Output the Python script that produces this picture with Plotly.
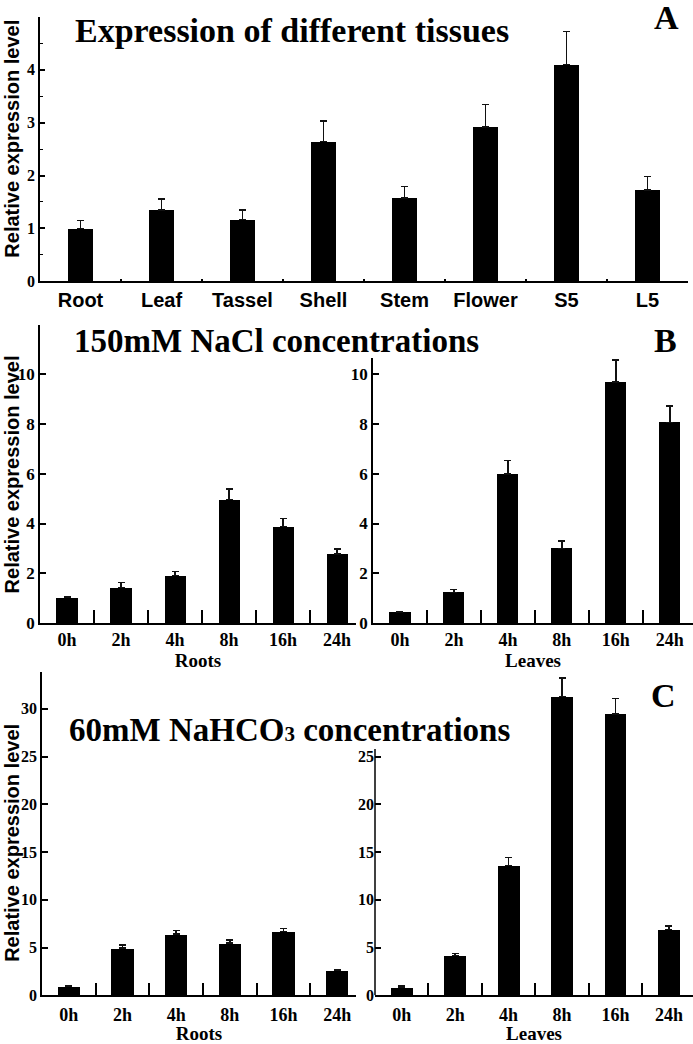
import plotly.graph_objects as go

# ---------------- data ----------------
tissues = ["Root", "Leaf", "Tassel", "Shell", "Stem", "Flower", "S5", "L5"]
tissue_vals = [1.0, 1.35, 1.17, 2.64, 1.57, 2.92, 4.10, 1.73]
tissue_err = [0.15, 0.21, 0.18, 0.39, 0.22, 0.42, 0.62, 0.25]

hours = ["0h", "2h", "4h", "8h", "16h", "24h"]

nacl_roots = [1.02, 1.42, 1.91, 4.97, 3.88, 2.78]
nacl_roots_err = [0.05, 0.20, 0.17, 0.41, 0.33, 0.20]
nacl_leaves = [0.45, 1.22, 6.00, 2.99, 9.69, 8.06]
nacl_leaves_err = [0.02, 0.12, 0.53, 0.31, 0.89, 0.67]

bicarb_roots = [0.93, 4.94, 6.40, 5.47, 6.67, 2.59]
bicarb_roots_err = [0.05, 0.35, 0.41, 0.31, 0.35, 0.11]
bicarb_leaves = [0.86, 4.15, 13.59, 31.30, 29.46, 6.92]
bicarb_leaves_err = [0.10, 0.24, 0.83, 1.90, 1.64, 0.34]

# ---------------- layout helpers ----------------
W, H = 693, 1044
SERIF = "Liberation Serif"
SANS = "Liberation Sans"


def px_x(x):
    return x / W


def px_y(y):
    return 1 - y / H


def bars(x, y, err, xa, ya, width):
    return go.Bar(
        x=x, y=y, xaxis=xa, yaxis=ya, width=width,
        marker=dict(color="black", line=dict(width=0)),
        error_y=dict(type="data", symmetric=False, array=err,
                     arrayminus=[0] * len(err), thickness=1.5, width=3.5,
                     color="#111111"),
        showlegend=False,
    )


fig = go.Figure()
fig.add_trace(bars(tissues, tissue_vals, tissue_err, "x", "y", 0.30))
fig.add_trace(bars(hours, nacl_roots, nacl_roots_err, "x2", "y2", 0.39))
fig.add_trace(bars(hours, nacl_leaves, nacl_leaves_err, "x3", "y3", 0.39))
fig.add_trace(bars(hours, bicarb_roots, bicarb_roots_err, "x4", "y4", 0.42))
fig.add_trace(bars(hours, bicarb_leaves, bicarb_leaves_err, "x5", "y5", 0.41))

axis_common = dict(showgrid=False, zeroline=False, showline=True,
                   linecolor="black", linewidth=1.5, ticks="inside",
                   tickcolor="black", tickwidth=1.5)

xfont_serif = dict(family=SERIF, size=18, color="black", weight="bold")
yfont_serif = dict(family=SERIF, size=17, color="black", weight="bold")
title_font = dict(family=SERIF, size=19, color="black", weight="bold")

layout = dict(
    width=W, height=H, margin=dict(l=0, r=0, t=0, b=0),
    paper_bgcolor="white", plot_bgcolor="white",
    bargap=0,
    # ---- panel A ----
    xaxis=dict(**axis_common, domain=[px_x(40), px_x(688)], anchor="y",
               type="category", range=[-0.5, 7.5], tickson="boundaries",
               ticklen=3,
               tickfont=dict(family=SANS, size=20, color="black", weight="bold")),
    yaxis=dict(**axis_common, domain=[px_y(284), px_y(17)], anchor="x",
               range=[0, 5], tickvals=[0, 1, 2, 3, 4], ticklen=5,
               minor=dict(dtick=0.5, ticks="inside", ticklen=3,
                          tickcolor="black", tickwidth=1.2),
               tickfont=dict(family=SERIF, size=16, color="black", weight="bold")),
    # ---- panel B left ----
    xaxis2=dict(**axis_common, domain=[px_x(40), px_x(356)], anchor="y2",
                type="category", range=[-0.5, 5.35], tickson="boundaries",
                ticklen=13, tickfont=xfont_serif,
                title=dict(text="Roots", font=title_font, standoff=0)),
    yaxis2=dict(**axis_common, domain=[px_y(629), px_y(629 - 12 * 25.1)],
                anchor="x2", range=[0, 12], tickvals=[0, 2, 4, 6, 8, 10],
                ticklen=6, minor=dict(tickvals=[12], ticks="inside", ticklen=6,
                                      tickcolor="black", tickwidth=1.5),
                tickfont=yfont_serif),
    # ---- panel B right ----
    xaxis3=dict(**axis_common, domain=[px_x(373), px_x(693)], anchor="y3",
                type="category", range=[-0.5, 5.43], tickson="boundaries",
                ticklen=13, tickfont=xfont_serif,
                title=dict(text="Leaves", font=title_font, standoff=0)),
    yaxis3=dict(**axis_common, domain=[px_y(629), px_y(629 - 10.65 * 25.1)],
                anchor="x3", range=[0, 10.65], tickvals=[0, 2, 4, 6, 8, 10],
                ticklen=6, tickfont=yfont_serif),
    # ---- panel C left ----
    xaxis4=dict(**axis_common, domain=[px_x(42), px_x(356)], anchor="y4",
                type="category", range=[-0.5, 5.35], tickson="boundaries",
                ticklen=13, tickfont=xfont_serif, ticklabelstandoff=2,
                title=dict(text="Roots", font=title_font, standoff=3)),
    yaxis4=dict(**axis_common, domain=[px_y(1005), px_y(678)], anchor="x4",
                range=[0, 33.9], tickvals=[0, 5, 10, 15, 20, 25, 30],
                ticklen=6, tickfont=dict(family=SERIF, size=16, color="black",
                                         weight="bold")),
    # ---- panel C right ----
    xaxis5=dict(**axis_common, domain=[px_x(375), px_x(693)], anchor="y5",
                type="category", range=[-0.5, 5.45], tickson="boundaries",
                ticklen=13, tickfont=xfont_serif, ticklabelstandoff=2,
                title=dict(text="Leaves", font=title_font, standoff=3)),
    yaxis5=dict(showgrid=False, zeroline=False, showline=False,
                ticks="inside", tickcolor="black", tickwidth=1.5,
                domain=[px_y(1005), px_y(678)], anchor="x5",
                range=[0, 33.9], tickvals=[0, 5, 10, 15, 20, 25],
                ticklen=6, tickfont=dict(family=SERIF, size=16, color="black",
                                         weight="bold")),
)
fig.update_layout(**layout)

# y-axis line of panel C right stops below the title
fig.add_shape(type="line", xref="x5 domain", yref="y5", x0=0, x1=0,
              y0=0, y1=25.8, line=dict(color="black", width=1.5))

big = dict(family=SERIF, size=33, color="black", weight="bold")
ylab = dict(family=SANS, size=20, color="black", weight="bold")

annotations = [
    dict(text="Expression of different tissues", x=px_x(73), y=px_y(31),
         xanchor="left", yanchor="middle", font=dict(big, size=34)),
    dict(text="A", x=px_x(666), y=px_y(18), xanchor="center",
         yanchor="middle", font=dict(big, size=34)),
    dict(text="150mM NaCl concentrations", x=px_x(72), y=px_y(344),
         xanchor="left", yanchor="middle", font=big),
    dict(text="B", x=px_x(665), y=px_y(344), xanchor="center",
         yanchor="middle", font=dict(big, size=34)),
    dict(text="60mM NaHCO<span style='font-size:21px'>3</span> concentrations",
         x=px_x(67), y=px_y(737), xanchor="left", yanchor="middle", font=big),
    dict(text="C", x=px_x(663), y=px_y(702), xanchor="center",
         yanchor="middle", font=dict(big, size=34)),
]
for yc in (140, 479, 851):
    annotations.append(dict(text="Relative expression level", x=px_x(12),
                            y=px_y(yc), textangle=-90, xanchor="center",
                            yanchor="middle", font=ylab))
for a in annotations:
    a.update(xref="paper", yref="paper", showarrow=False)
fig.update_layout(annotations=annotations)

fig.write_html("out.html",
               config={"displayModeBar": False},
               post_script="document.body.style.margin='0';"
                           "document.body.style.padding='0';")
